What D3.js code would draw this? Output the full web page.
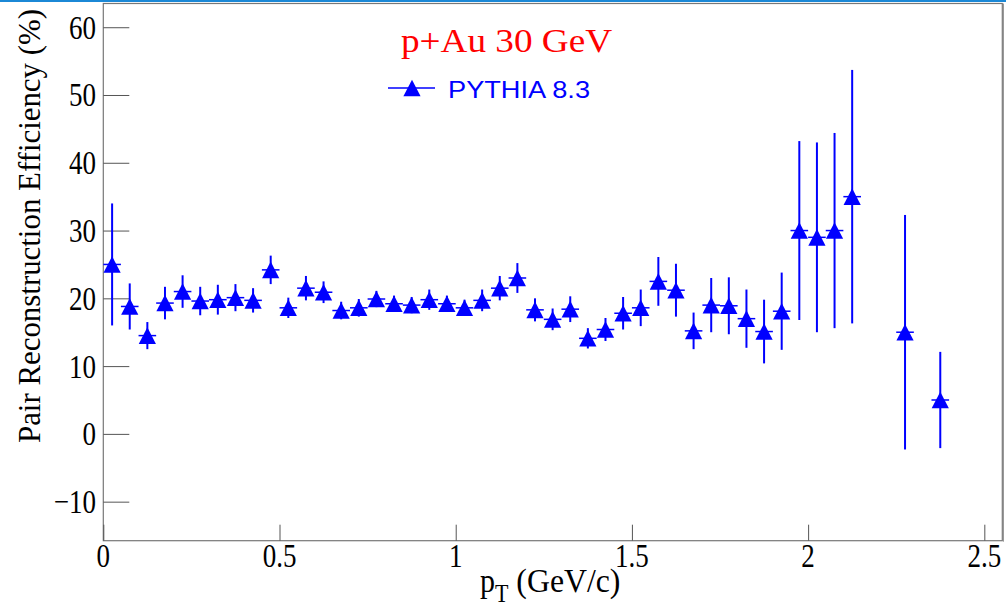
<!DOCTYPE html>
<html>
<head>
<meta charset="utf-8">
<script src="https://cdn.jsdelivr.net/npm/d3@7"></script>
<style>
  html, body { margin: 0; padding: 0; background: #fff; }
  svg { display: block; }
</style>
</head>
<body>
<svg id="chart" width="1006" height="609"></svg>
<script>
// ---- data ----
const pt = [0.025, 0.075, 0.125, 0.175, 0.225, 0.275, 0.325, 0.375, 0.425, 0.475,
            0.525, 0.575, 0.625, 0.675, 0.725, 0.775, 0.825, 0.875, 0.925, 0.975,
            1.025, 1.075, 1.125, 1.175, 1.225, 1.275, 1.325, 1.375, 1.425, 1.475,
            1.525, 1.575, 1.625, 1.675, 1.725, 1.775, 1.825, 1.875, 1.925, 1.975,
            2.025, 2.075, 2.125, 2.275, 2.375];
const eff = [25.0, 18.8, 14.5, 19.3, 21.0, 19.6, 19.8, 20.1, 19.7, 24.2,
             18.6, 21.5, 20.9, 18.2, 18.6, 19.9, 19.2, 19.0, 19.8, 19.2,
             18.6, 19.7, 21.5, 23.0, 18.3, 16.9, 18.4, 14.1, 15.4, 17.8,
             18.6, 22.5, 21.2, 15.2, 19.0, 18.9, 17.0, 15.1, 18.1, 30.0,
             29.0, 30.0, 35.0, 15.0, 5.0];
const effErr = [9.0, 3.4, 2.0, 2.4, 2.4, 2.1, 2.2, 2.0, 1.8, 2.1,
                1.5, 1.8, 1.6, 1.3, 1.3, 1.2, 1.2, 1.2, 1.5, 1.2,
                1.2, 1.6, 1.8, 2.2, 1.7, 1.6, 1.9, 1.5, 1.7, 2.4,
                2.7, 3.6, 3.9, 2.7, 4.0, 4.2, 4.3, 4.7, 5.7, 13.2,
                14.0, 14.4, 18.7, 17.3, 7.1];
const ptHalfWidth = 0.025;
const xMajorTicks = [0, 0.5, 1, 1.5, 2, 2.5];
const xTickLabels = ["0", "0.5", "1", "1.5", "2", "2.5"];
const yMajorTicks = [-10, 0, 10, 20, 30, 40, 50, 60];
const yTickLabels = ["\u221210", "0", "10", "20", "30", "40", "50", "60"];
const title = "p+Au 30 GeV";
const seriesName = "PYTHIA 8.3";

// ---- layout ----
const svg = d3.select("#chart");
const L = 103.3, R = 1002.3, T = 3.5, B = 540.7;
const x = d3.scaleLinear().domain([0, 2.551]).range([L, R]);
const y = d3.scaleLinear().domain([-15.76, 63.5]).range([B, T]);
const blue = "#0000ff";
const serif = "'Liberation Serif', 'Times New Roman', serif";
const sans = "'Liberation Sans', Arial, sans-serif";
const stretch = 1.28;

// top window border line
svg.append("rect").attr("x", 0).attr("y", 0).attr("width", 1006).attr("height", 2).attr("fill", "#1b88d6");

// frame
svg.append("rect").attr("x", L).attr("y", T).attr("width", R - L).attr("height", B - T)
  .attr("fill", "none").attr("stroke", "#777").attr("stroke-width", 1.2);
svg.append("line").attr("x1", R + 1.2).attr("x2", R + 1.2).attr("y1", T).attr("y2", B + 1)
  .attr("stroke", "#999").attr("stroke-width", 1);

// minor ticks
const xMinor = d3.range(0, 26).map(i => i / 10).filter(v => !xMajorTicks.some(m => Math.abs(m - v) < 1e-9));
const yMinor = d3.range(-14, 63, 2).filter(v => v % 10 !== 0);

const gx = svg.append("g").attr("transform", `translate(0,${B})`);
gx.call(d3.axisBottom(x).tickValues(xMinor).tickSize(-8).tickFormat(""));
gx.call(d3.axisBottom(x).tickValues(xMajorTicks).tickSize(-16).tickFormat(""));
gx.select(".domain").remove();
gx.selectAll("line").attr("stroke", "#555").attr("stroke-width", 1);

const gy = svg.append("g").attr("transform", `translate(${L},0)`);
gy.call(d3.axisLeft(y).tickValues(yMinor).tickSize(-13).tickFormat(""));
gy.call(d3.axisLeft(y).tickValues(yMajorTicks).tickSize(-26).tickFormat(""));
gy.select(".domain").remove();
gy.selectAll("line").attr("stroke", "#555").attr("stroke-width", 1);

// tick labels (vertically stretched like the ROOT rendering)
svg.append("g").selectAll("text").data(xMajorTicks).join("text")
  .attr("transform", d => `translate(${x(d)},567) scale(1,${stretch})`)
  .attr("text-anchor", "middle")
  .attr("font-family", serif).attr("font-size", 27).attr("fill", "#000")
  .text((d, i) => xTickLabels[i]);
svg.append("g").selectAll("text").data(yMajorTicks).join("text")
  .attr("transform", d => `translate(96,${y(d) + 11.5}) scale(1,${stretch})`)
  .attr("text-anchor", "end")
  .attr("font-family", serif).attr("font-size", 27).attr("fill", "#000")
  .text((d, i) => yTickLabels[i]);

// axis titles
svg.append("text")
  .attr("transform", "translate(40,226) rotate(-90)")
  .attr("text-anchor", "middle")
  .attr("font-family", serif).attr("font-size", 31)
  .attr("textLength", 434).attr("lengthAdjust", "spacingAndGlyphs")
  .text("Pair Reconstruction Efficiency (%)");

const xt = svg.append("text").attr("transform", "translate(480,592) scale(1,1.15)")
  .attr("font-family", serif).attr("font-size", 30);
xt.append("tspan").text("p");
xt.append("tspan").attr("font-size", 22).attr("dy", 9).text("T");
xt.append("tspan").attr("dy", -9).attr("textLength", 112).attr("lengthAdjust", "spacingAndGlyphs").text(" (GeV/c)");

// title
svg.append("text").attr("x", 401).attr("y", 52)
  .attr("font-family", serif).attr("font-size", 33).attr("fill", "#ff0000")
  .attr("textLength", 211).attr("lengthAdjust", "spacingAndGlyphs")
  .text(title);

// triangle marker path
const tri = (cx, cy) => `M${cx},${cy - 8.3}L${cx + 8.6},${cy + 8.3}L${cx - 8.6},${cy + 8.3}Z`;

// legend
svg.append("line").attr("x1", 388).attr("x2", 435).attr("y1", 88).attr("y2", 88)
  .attr("stroke", blue).attr("stroke-width", 1.5);
svg.append("path").attr("d", tri(412, 88)).attr("fill", blue);
svg.append("text").attr("x", 448).attr("y", 97.5)
  .attr("font-family", sans).attr("font-size", 24).attr("fill", blue)
  .attr("textLength", 142).attr("lengthAdjust", "spacingAndGlyphs")
  .text(seriesName);

// data
const data = pt.map((p, i) => ({ p, v: eff[i], e: effErr[i] }));
const gd = svg.append("g");
gd.selectAll("line.ey").data(data).join("line").attr("class", "ey")
  .attr("x1", d => x(d.p)).attr("x2", d => x(d.p))
  .attr("y1", d => y(d.v - d.e)).attr("y2", d => y(d.v + d.e))
  .attr("stroke", blue).attr("stroke-width", 2);
gd.selectAll("line.ex").data(data).join("line").attr("class", "ex")
  .attr("x1", d => x(d.p - ptHalfWidth)).attr("x2", d => x(d.p + ptHalfWidth))
  .attr("y1", d => y(d.v)).attr("y2", d => y(d.v))
  .attr("stroke", blue).attr("stroke-width", 1.5);
gd.selectAll("path.m").data(data).join("path").attr("class", "m")
  .attr("d", d => tri(x(d.p), y(d.v)))
  .attr("fill", blue);
</script>
</body>
</html>
